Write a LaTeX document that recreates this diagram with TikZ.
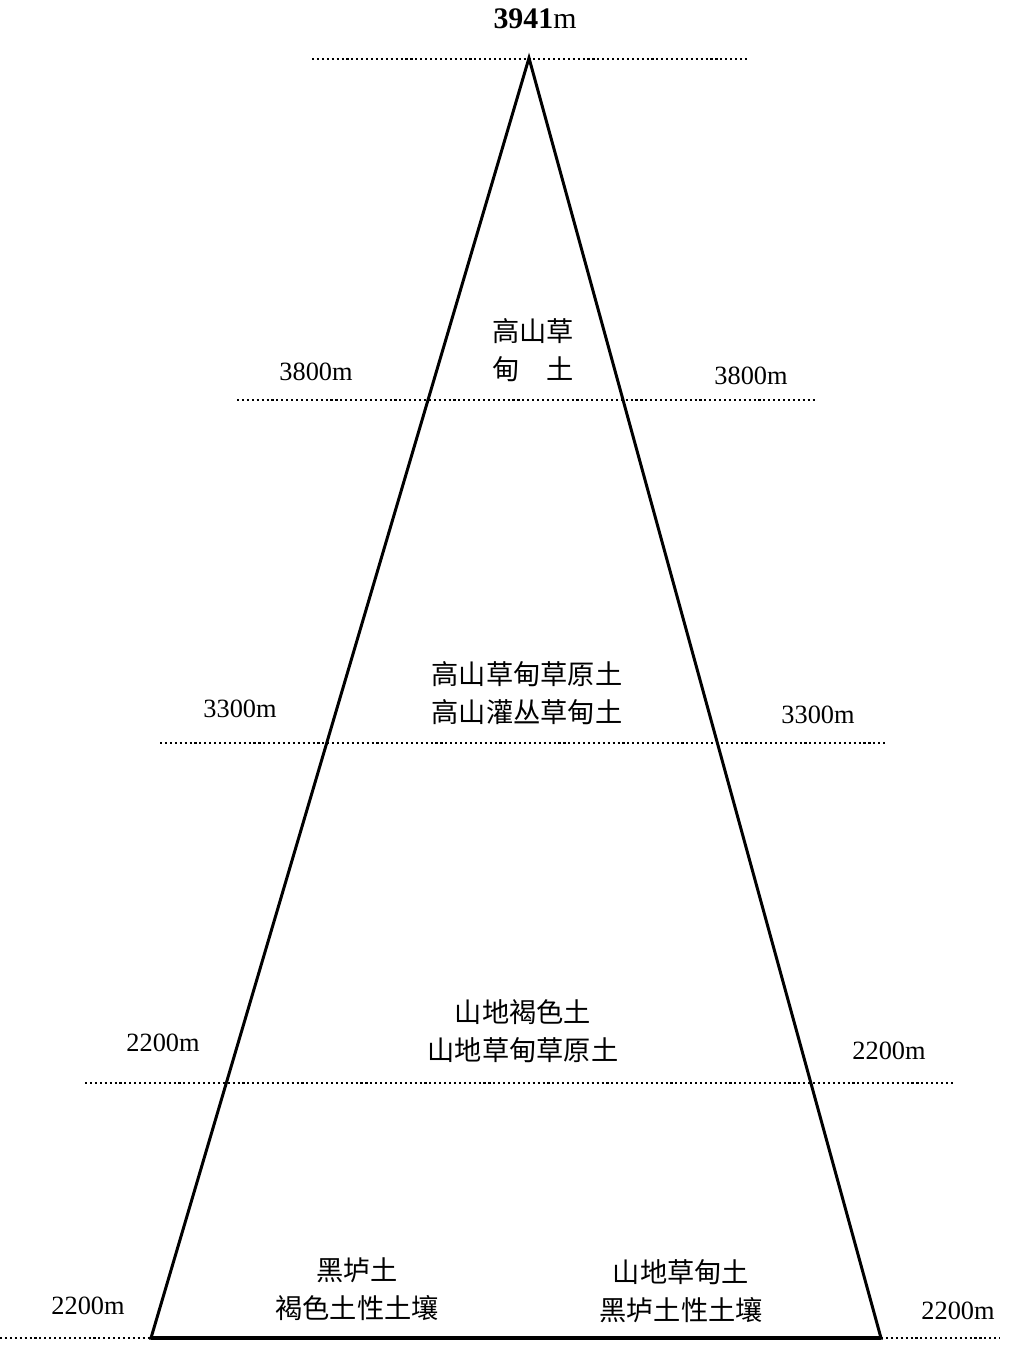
\documentclass[tikz,border=0pt]{standalone}
\usepackage{fontspec}
\setmainfont{Liberation Serif}
\newfontfamily\cjk{Noto Sans CJK SC}
\tikzset{
  level/.style={line width=0.9pt, dash pattern=on 1.2pt off 1.6pt},
  edge/.style={line width=1.7pt, line join=miter},
  alt/.style={font=\fontsize{15}{17}\selectfont, inner sep=0pt},
  soil/.style={font=\cjk\fontsize{15.5}{22}\selectfont, align=center, inner sep=0pt}
}
\begin{document}
\begin{tikzpicture}[x=0.02cm, y=-0.02cm]
  \useasboundingbox (0, 0) rectangle (1027, 1346);

  % Mountain
  \coordinate (apex) at (529, 58);
  \coordinate (baseL) at (151, 1338);
  \coordinate (baseR) at (881, 1338);
  \draw [edge] (apex) -- (baseL) -- (baseR) -- cycle;
  \draw [line width=2.4pt] (baseL) -- (baseR);

  % Levels
  \coordinate (topL) at (312, 59);    \coordinate (topR) at (748, 59);
  \coordinate (l38L) at (237, 400);   \coordinate (l38R) at (817, 400);
  \coordinate (l33L) at (160, 743);   \coordinate (l33R) at (885, 743);
  \coordinate (l22L) at (85, 1083);   \coordinate (l22R) at (955, 1083);
  \coordinate (botL) at (0, 1338);    \coordinate (botR) at (1000, 1338);
  \draw [level] (topL) -- (topR);
  \draw [level] (l38L) -- (l38R);
  \draw [level] (l33L) -- (l33R);
  \draw [level] (l22L) -- (l22R);
  \draw [level] (botL) -- (baseL);
  \draw [level] (baseR) -- (botR);

  % Altitudes
  \node [alt, font=\fontsize{17}{19}\selectfont] (peak) at (535, 19) {\textbf{3941}m};
  \node [alt] (a38L) at (316, 372) {3800m};
  \node [alt] (a38R) at (751, 376) {3800m};
  \node [alt] (a33L) at (240, 709) {3300m};
  \node [alt] (a33R) at (818, 715) {3300m};
  \node [alt] (a22L) at (163, 1043) {2200m};
  \node [alt] (a22R) at (889, 1051) {2200m};
  \node [alt] (a0L) at (88, 1306) {2200m};
  \node [alt] (a0R) at (958, 1311) {2200m};

  % Soils
  \node [soil] (s1) at (533, 350) {高山草\\甸\hspace{1em}土};
  \node [soil] (s2) at (527, 693) {高山草甸草原土\\高山灌丛草甸土};
  \node [soil] (s3) at (523, 1031) {山地褐色土\\山地草甸草原土};
  \node [soil] (s4) at (357, 1289) {黑垆土\\褐色土性土壤};
  \node [soil] (s5) at (681, 1291) {山地草甸土\\黑垆土性土壤};
\end{tikzpicture}
\end{document}
